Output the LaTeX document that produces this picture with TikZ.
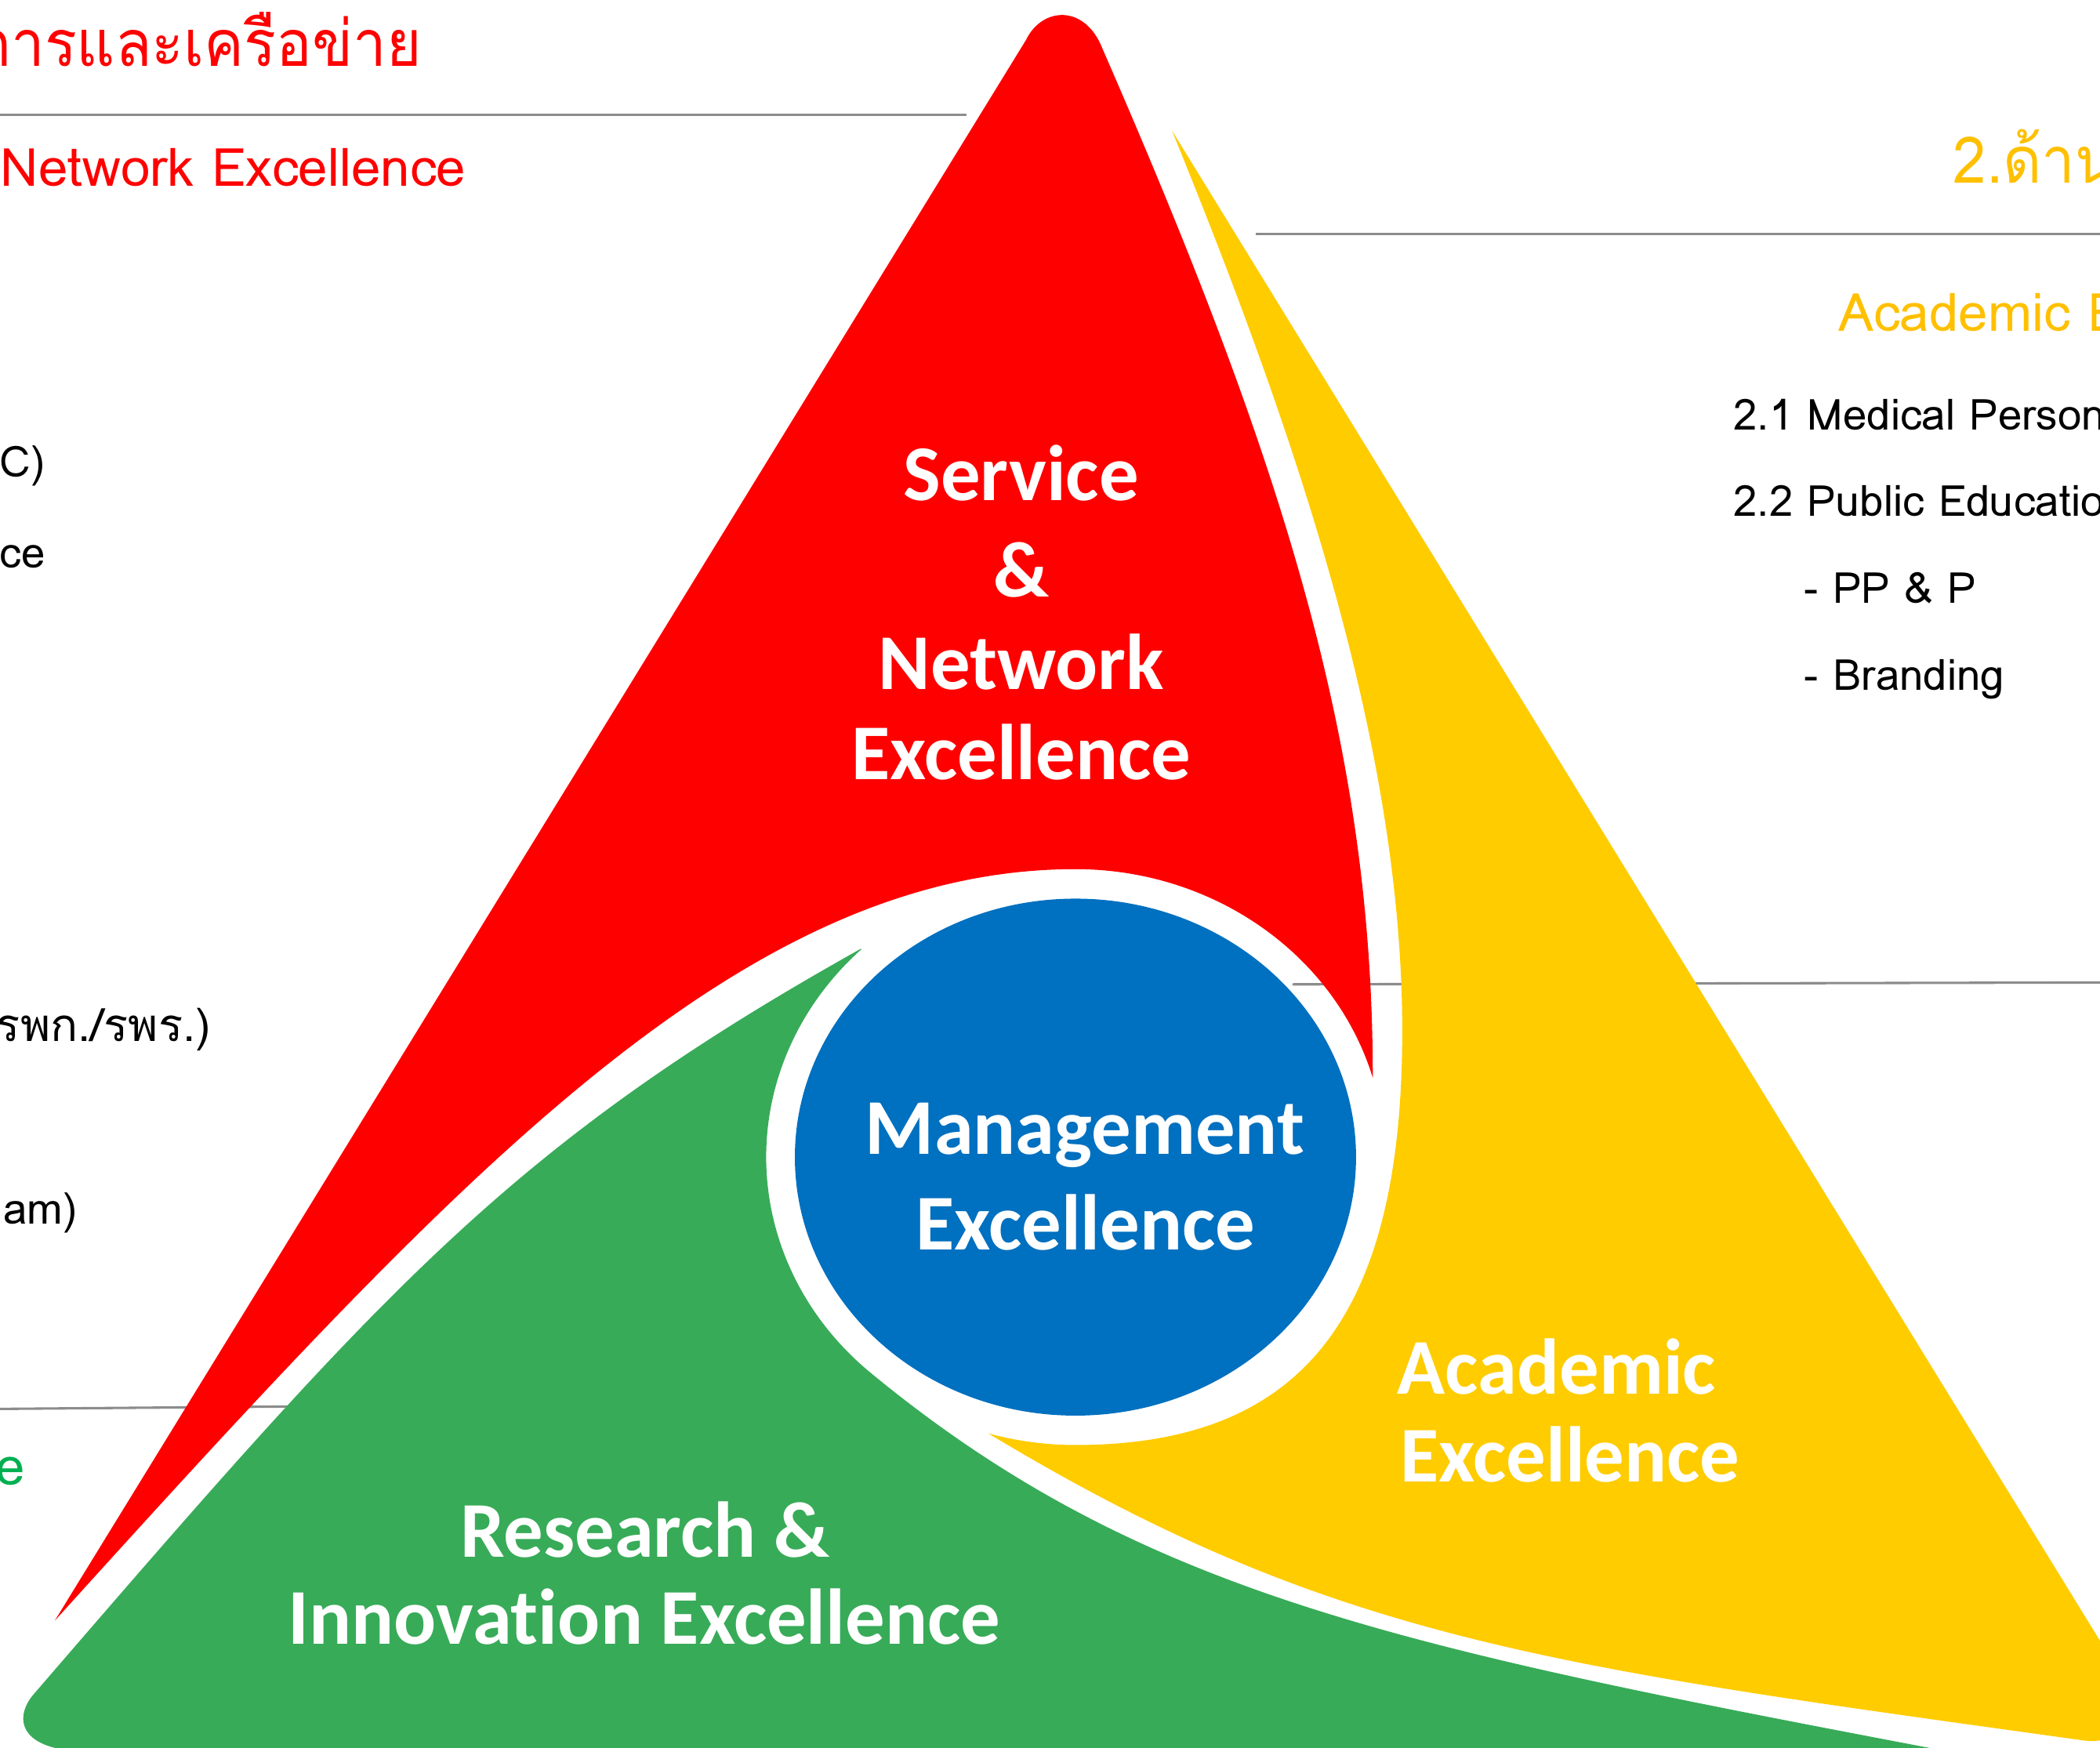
\documentclass[tikz,border=0pt]{standalone}
\usepackage{fontspec}
\setmainfont{Carlito}[Ligatures=NoCommon]
\newfontfamily\thaifont[Script=Thai]{Loma}

\definecolor{svcred}{HTML}{FF0000}
\definecolor{acadyellow}{HTML}{FFCC00}
\definecolor{acadgold}{HTML}{FFC000}
\definecolor{resgreen}{HTML}{38AB58}
\definecolor{resgreentext}{HTML}{00B050}
\definecolor{mgmtblue}{HTML}{0070C0}
\definecolor{rulegray}{HTML}{8C8C8C}

\begin{document}
\begin{tikzpicture}[x=0.5pt,y=-0.5pt,
    bigword/.style={text=white, font=\fontsize{29.5}{35}\selectfont\bfseries, inner sep=0pt},
    sidetitle/.style={font=\thaifont\fontsize{24}{29}\selectfont\addfontfeature{FakeStretch=0.93}, inner sep=0pt},
    sidehead/.style={font=\thaifont\fontsize{19.7}{24}\selectfont, inner sep=0pt},
    sideitem/.style={font=\thaifont\fontsize{16}{19}\selectfont, inner sep=0pt},
    sepline/.style={draw=rulegray, line width=0.9pt}]

        % Define radii of the ring and the core
        \def\ringX{231}
        \def\ringY{215}
        \def\coreX{209.5}
        \def\coreY{193}

        \useasboundingbox (0,0) rectangle (1568,1305);
        \clip (0,0) rectangle (1568,1305);

        % Draw separator lines (they run behind the triangle)
        \draw[sepline] (0,85.7) -- (721.7,85.7);
        \draw[sepline] (937.8,174.7) -- (1568,174.7);
        \draw[sepline] (965,735) -- (1568,733.6);
        \draw[sepline] (0,1052) -- (240,1050);

        % Draw the red segment (service & network)
        \fill[svcred] (41,1210) -- (766,30) .. controls (778,5) and (810,3) .. (823,36)
            .. controls (960,350) and (1025,560) .. (1025,804.7)
            arc[start angle=-16, end angle=-90, x radius=\ringX, y radius=\ringY]
            .. controls (553,649) and (342.5,877) .. (41,1210) -- cycle;

        % Draw the yellow segment (academic)
        \fill[acadyellow] (875.1,97.6) -- (1590,1261)
            .. controls (1600,1278) and (1585,1303) .. (1556.8,1299.7)
            .. controls (1160.8,1244.5) and (995.7,1225.9) .. (738,1070.3)
            arc[start angle=106.3, end angle=90, x radius=\ringX, y radius=\ringY]
            .. controls (975,1079) and (1047,980) .. (1047,770)
            .. controls (1047,560) and (970,330) .. (875.1,97.6) -- cycle;

        % Draw the green segment (research & innovation)
        \fill[resgreen] (642.8,708.4) .. controls (380.9,854.8) and (285.8,962.9) .. (24.6,1265.7)
            .. controls (12,1281) and (14,1300) .. (45,1306) -- (50,1320) -- (1500,1320) -- (1440,1305)
            .. controls (1047,1230.2) and (850.7,1190.4) .. (650,1025)
            arc[start angle=131.5, end angle=226.2, x radius=\ringX, y radius=\ringY] -- cycle;

        % Draw the blue core
        \fill[mgmtblue] (803,864) ellipse [x radius=\coreX, y radius=\coreY];

        % Labels inside the segments
        \node[bigword, anchor=base] (service) at (762.5,374) {Service};
        \node[bigword, anchor=base] (svcamp) at (762.5,445.7) {\&};
        \node[bigword, anchor=base] (network) at (762.5,515) {Network};
        \node[bigword, anchor=base] (svcexc) at (762.5,582.3) {Excellence};
        \node[bigword, anchor=base] (management) at (810,861.7) {Management};
        \node[bigword, anchor=base] (mgmtexc) at (810.5,933) {Excellence};
        \node[bigword, anchor=base west] (academic) at (1043,1040.9) {Academic};
        \node[bigword, anchor=base west] (acadexc) at (1045,1106.7) {Excellence};
        \node[bigword, anchor=base] (research) at (481.5,1162.7) {Research \&};
        \node[bigword, anchor=base] (innovation) at (481,1227.6) {Innovation Excellence};

        % Left column (service & network)
        \node[sidetitle, text=svcred, anchor=base east] (svctitle) at (315.5,49.3) {การและเครือข่าย};
        \node[sidehead, text=svcred, anchor=base west] (svchead) at (0,138.8) {Network Excellence};
        \node[sideitem, anchor=base east] (svcitemA) at (34,356) {C)};
        \node[sideitem, anchor=base east] (svcitemB) at (34,424) {ce};
        \node[sideitem, font=\thaifont\fontsize{17}{20}\selectfont, anchor=base east] (svcitemC) at (157.7,777.5) {รพก./รพร.)};
        \node[sideitem, anchor=base east] (svcitemD) at (58,914) {am)};
        \node[sidehead, text=resgreentext, anchor=base east] (reshead) at (19,1109) {e};

        % Right column (academic)
        \node[sidetitle, text=acadgold, anchor=base west] (acadtitle) at (1458,136.8) {2.ด้าน};
        \node[sidehead, text=acadgold, anchor=base west] (acadhead) at (1372.3,247.2) {Academic Excellence};
        \node[sideitem, anchor=base west] (acaditemA) at (1294,321.2) {2.1 Medical Personnel};
        \node[sideitem, anchor=base west] (acaditemB) at (1294,385.2) {2.2 Public Education};
        \node[sideitem, anchor=base west] (acaditemC) at (1346.8,450.2) {- PP \& P};
        \node[sideitem, anchor=base west] (acaditemD) at (1346.8,515.1) {- Branding};
    \end{tikzpicture}
\end{document}
